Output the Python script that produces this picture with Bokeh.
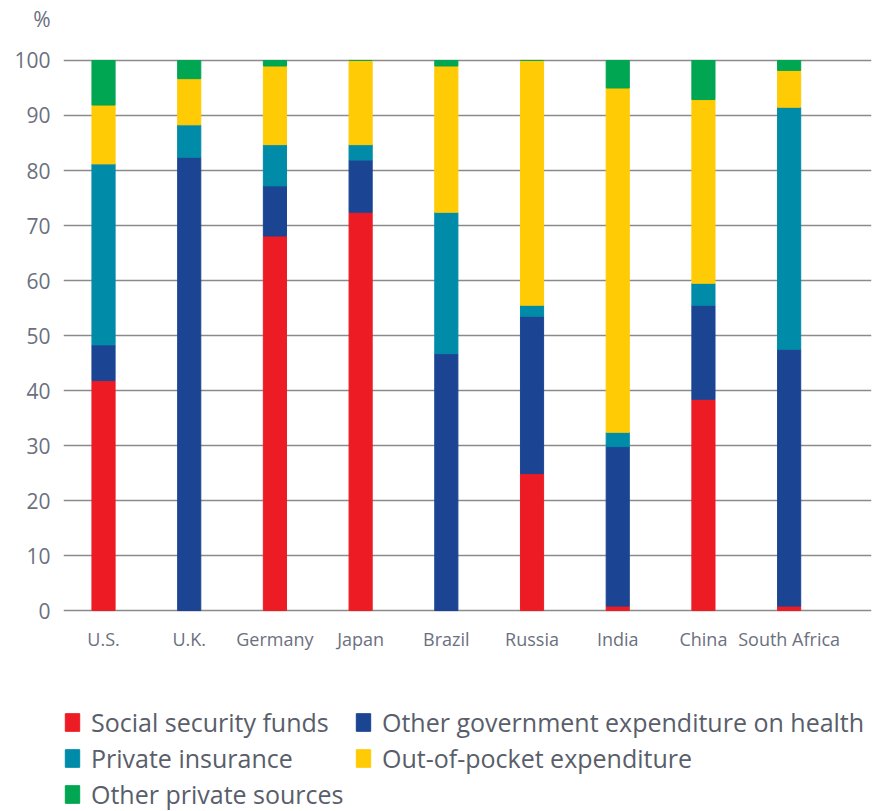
from bokeh.plotting import figure
from bokeh.layouts import column
from bokeh.models import Range1d, Legend, LegendItem, FixedTicker, ColumnDataSource
from bokeh.embed import file_html
from bokeh.resources import INLINE

countries = ["U.S.", "U.K.", "Germany", "Japan", "Brazil", "Russia", "India", "China", "South Africa"]
social_security = [41.8, 0.0, 68.1, 72.4, 0.0, 24.9, 0.8, 38.4, 0.8]
other_government = [6.5, 82.4, 9.1, 9.5, 46.7, 28.6, 29.0, 17.1, 46.7]
private_insurance = [32.9, 5.9, 7.5, 2.8, 25.7, 2.0, 2.6, 4.0, 44.0]
out_of_pocket = [10.7, 8.4, 14.3, 15.3, 26.6, 44.5, 62.6, 33.4, 6.7]
other_private = [8.1, 3.3, 1.0, 0.0, 1.0, 0.0, 5.0, 7.1, 1.8]
y_ticks = [0, 10, 20, 30, 40, 50, 60, 70, 80, 90, 100]
unit_label = "%"
unit_tick = 107.6

series_keys = ["ss", "gov", "pi", "oop", "oth"]
series_names = ["Social security funds", "Other government expenditure on health",
                "Private insurance", "Out-of-pocket expenditure", "Other private sources"]
colors = ["#ED1C24", "#1B4593", "#008BA8", "#FFCB05", "#00A651"]

FONT = "Open Sans"
TEXT = "#6b7080"

source = ColumnDataSource(dict(
    x=list(range(len(countries))),
    ss=social_security, gov=other_government, pi=private_insurance,
    oop=out_of_pocket, oth=other_private,
))

# ---------------- main chart ----------------
p = figure(width=875, height=666, output_backend="svg", toolbar_location=None,
           x_range=Range1d(-0.467, 8.961), y_range=Range1d(-0.36, 109.09))
p.min_border_left = 63
p.min_border_right = 4
p.min_border_top = 10
p.min_border_bottom = 54
p.outline_line_color = None
p.background_fill_color = "white"
p.border_fill_color = "white"

p.vbar_stack(series_keys, x="x", width=0.27, color=colors, source=source)

p.xaxis.ticker = FixedTicker(ticks=list(range(len(countries))))
p.xaxis.major_label_overrides = {i: c for i, c in enumerate(countries)}
p.yaxis.ticker = FixedTicker(ticks=y_ticks + [unit_tick])
p.yaxis.major_label_overrides = {unit_tick: unit_label}
for ax in (p.xaxis[0], p.yaxis[0]):
    ax.axis_line_color = None
    ax.major_tick_line_color = None
    ax.minor_tick_line_color = None
    ax.major_tick_out = 0
    ax.major_tick_in = 0
    ax.major_label_text_font = FONT
    ax.major_label_text_color = TEXT
p.xaxis.major_label_text_font_size = "18px"
p.xaxis.major_label_standoff = 14
p.yaxis.major_label_text_font_size = "21px"
p.yaxis.major_label_standoff = 13

p.xgrid.grid_line_color = None
p.ygrid.ticker = FixedTicker(ticks=y_ticks)
p.ygrid.grid_line_color = "#8a8a8a"
p.ygrid.grid_line_width = 1.6

# ---------------- legend strip ----------------
p2 = figure(width=875, height=145, output_backend="svg", toolbar_location=None,
            x_axis_type=None, y_axis_type=None,
            x_range=Range1d(100, 101), y_range=Range1d(1000, 1001))
p2.min_border = 0
p2.outline_line_color = None
p2.xgrid.grid_line_color = None
p2.ygrid.grid_line_color = None
legend_renderers = p2.vbar_stack(series_keys, x="x", width=0.27, color=colors, source=source)

items = [LegendItem(label=n, renderers=[r]) for n, r in zip(series_names, legend_renderers)]
legend = Legend(items=items, location=(0, 0), orientation="horizontal", ncols=2,
                glyph_width=18, glyph_height=22, label_height=22, label_width=261,
                label_standoff=10, spacing=2, padding=0, margin=0,
                border_line_color=None, background_fill_alpha=0,
                label_text_font=FONT, label_text_font_size="25px", label_text_color="#595e6a")
p2.add_layout(legend, "center")

layout = column(p, p2, spacing=0)
open("out.html", "w").write(file_html(layout, INLINE))
